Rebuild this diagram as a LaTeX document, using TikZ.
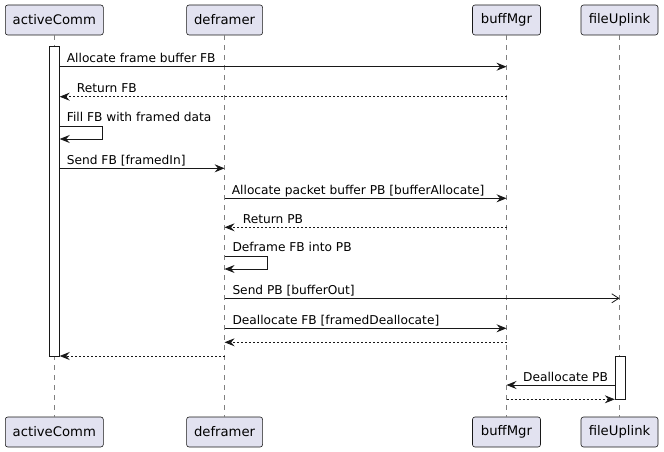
\documentclass[tikz,border=0pt]{standalone}
\usepackage{fontspec}
\setmainfont{DejaVu Sans}
\usetikzlibrary{arrows.meta}
\definecolor{partfill}{HTML}{E2E2F0}
\definecolor{partline}{HTML}{181818}
\definecolor{lifegray}{HTML}{808080}
\begin{document}
\begin{tikzpicture}[x=1pt,y=-1pt,
  part/.style={draw=partline, fill=partfill, rounded corners=2.5pt, minimum height=30pt,
    inner sep=0pt, font=\fontsize{13.2}{15}\selectfont, line width=0.6pt},
  life/.style={draw=lifegray, dash pattern=on 5pt off 5pt, line width=0.6pt},
  actbar/.style={draw=partline, fill=white, minimum width=10pt, inner sep=0pt, line width=0.8pt},
  msg/.style={draw=partline, line width=0.8pt, -{Stealth[length=10pt,width=8pt,inset=3.5pt]}},
  ret/.style={msg, dash pattern=on 2pt off 2pt},
  async/.style={draw=partline, line width=0.8pt, -{Straight Barb[length=7pt,width=9pt]}},
  lbl/.style={anchor=base west, inner sep=0pt, font=\fontsize{12.2}{14}\selectfont},
]
\useasboundingbox (0,0) rectangle (664,452);

% participants, top and bottom
\node[part, minimum width=98pt] (acT) at (54.3,20) {activeComm};
\node[part, minimum width=76pt] (dfT) at (224.6,20) {deframer};
\node[part, minimum width=68pt] (bmT) at (506.5,20) {buffMgr};
\node[part, minimum width=77pt] (fuT) at (619.5,20) {fileUplink};
\node[part, minimum width=98pt] (acB) at (54.3,432) {activeComm};
\node[part, minimum width=76pt] (dfB) at (224.6,432) {deframer};
\node[part, minimum width=68pt] (bmB) at (506.5,432) {buffMgr};
\node[part, minimum width=77pt] (fuB) at (619.5,432) {fileUplink};

% lifelines
\draw[life] (acT) -- (acB);
\draw[life] (dfT) -- (dfB);
\draw[life] (bmT) -- (bmB);
\draw[life] (fuT) -- (fuB);

% activation bars
\node[actbar, minimum height=309.3pt] (acAct) at (54.3,201.35) {};
\node[actbar, minimum height=43.3pt] (fuAct) at (620.2,377.65) {};

% messages
\draw[msg] (acAct.east |- 0,66.7) -- (bmT.center |- 0,66.7);
\node[lbl] (m1) at (66.7,63) {Allocate frame buffer FB};

\draw[ret] (bmT.center |- 0,96.7) -- (acAct.east |- 0,96.7);
\node[lbl] (m2) at (76.7,92.6) {Return FB};

\draw[msg] (acAct.east |- 0,126.7) -- ++(42.4,0) -- ++(0,12.3) -- (acAct.east |- 0,139);
\node[lbl] (m3) at (66.7,121.7) {Fill FB with framed data};

\draw[msg] (acAct.east |- 0,168.3) -- (dfT.center |- 0,168.3);
\node[lbl] (m4) at (66.7,164.5) {Send FB [framedIn]};

\draw[msg] (dfT.center |- 0,198.3) -- (bmT.center |- 0,198.3);
\node[lbl] (m5) at (231.7,194.5) {Allocate packet buffer PB [bufferAllocate]};

\draw[ret] (bmT.center |- 0,227.3) -- (dfT.center |- 0,227.3);
\node[lbl] (m6) at (242.7,223.3) {Return PB};

\draw[msg] (dfT.center |- 0,256.7) -- ++(42.7,0) -- ++(0,12.3) -- (dfT.center |- 0,269);
\node[lbl] (m7) at (232.3,251.7) {Deframe FB into PB};

\draw[async] (dfT.center |- 0,298.3) -- (fuT.center |- 0,298.3);
\node[lbl] (m8) at (232.3,294.5) {Send PB [bufferOut]};

\draw[msg] (dfT.center |- 0,328.3) -- (bmT.center |- 0,328.3);
\node[lbl] (m9) at (232.3,324.5) {Deallocate FB [framedDeallocate]};

\draw[ret] (bmT.center |- 0,342.3) -- (dfT.center |- 0,342.3);
\draw[ret] (dfT.center |- 0,356) -- (acAct.east |- 0,356);

\draw[msg] (fuAct.west |- 0,385) -- (bmT.center |- 0,385);
\node[lbl] (m10) at (523,381.2) {Deallocate PB};

\draw[ret] (bmT.center |- 0,399.3) -- (fuAct.west |- 0,399.3);
\end{tikzpicture}
\end{document}
